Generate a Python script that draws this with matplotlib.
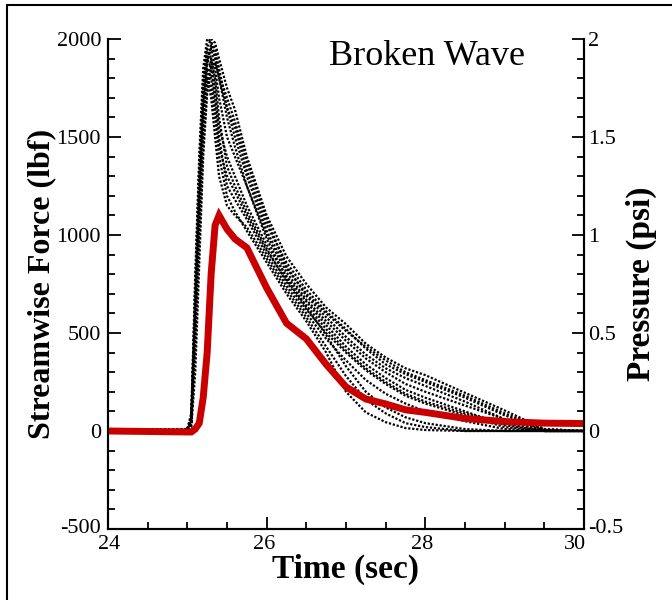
import matplotlib
matplotlib.use("Agg")
import matplotlib.pyplot as plt
from matplotlib.patches import Rectangle
from matplotlib.ticker import MultipleLocator
from matplotlib.transforms import ScaledTranslation

plt.rcParams['font.family'] = ['Liberation Serif', 'DejaVu Serif']

# time grid shared by all runs (sec)
t = [24.0, 25.0, 25.05, 25.1, 25.15, 25.2, 25.25, 25.3, 25.35, 25.4, 25.5, 25.6, 25.75,
     26.0, 26.25, 26.5, 26.75, 27.0, 27.25, 27.5, 27.75, 28.0, 28.5, 29.0, 29.5, 30.0]

# streamwise force of the individual runs (lbf)
run01 = [0, 5, 60, 700, 1300, 1750, 1960, 2000, 1980, 1900, 1750, 1640, 1400, 1100, 890, 750, 630, 545, 445, 375, 320, 285, 195, 105, 10, 0]
run02 = [5, 10, 80, 800, 1400, 1850, 2000, 1990, 1900, 1800, 1650, 1550, 1330, 1050, 860, 720, 610, 520, 420, 340, 290, 250, 170, 80, 5, 0]
run03 = [0, 5, 40, 500, 1100, 1600, 1880, 1960, 1920, 1820, 1700, 1580, 1370, 1080, 840, 690, 580, 480, 390, 320, 270, 230, 150, 60, 5, 0]
run04 = [0, 10, 70, 650, 1250, 1700, 1900, 1850, 1700, 1550, 1400, 1300, 1150, 950, 790, 660, 540, 430, 340, 270, 210, 170, 100, 30, 0, 0]
run05 = [5, 5, 30, 400, 950, 1450, 1750, 1900, 1800, 1600, 1350, 1250, 1120, 930, 760, 620, 500, 400, 310, 240, 180, 140, 80, 20, 0, 0]
run06 = [0, 10, 90, 750, 1350, 1800, 1950, 1900, 1750, 1500, 1250, 1180, 1080, 900, 740, 600, 470, 360, 260, 190, 140, 100, 50, 10, 0, 0]
run07 = [0, 0, 50, 600, 1150, 1650, 1850, 1800, 1650, 1450, 1300, 1220, 1100, 920, 770, 640, 520, 410, 320, 250, 190, 150, 90, 40, 0, 0]
run08 = [5, 5, 40, 550, 1100, 1600, 1800, 1750, 1600, 1400, 1200, 1120, 1020, 860, 700, 560, 400, 200, 95, 45, 15, 5, 0, 0, 0, 0]
run09 = [0, 10, 60, 650, 1200, 1700, 1900, 1950, 1850, 1700, 1500, 1400, 1250, 1000, 810, 670, 560, 460, 370, 300, 240, 200, 130, 60, 0, 0]
run10 = [0, 5, 20, 300, 850, 1400, 1720, 1850, 1880, 1800, 1600, 1450, 1250, 980, 780, 630, 490, 330, 200, 120, 70, 40, 10, 0, 0, 0]
run11 = [5, 5, 50, 600, 1150, 1600, 1880, 1980, 1950, 1850, 1650, 1500, 1300, 1020, 830, 700, 600, 510, 430, 360, 300, 260, 180, 90, 10, 0]
run12 = [0, 5, 40, 500, 1050, 1550, 1800, 1700, 1500, 1300, 1150, 1100, 1040, 880, 720, 580, 430, 280, 160, 90, 40, 20, 0, 0, 0, 0]
runs = [run01, run02, run03, run04, run05, run06, run07, run08, run09, run10, run11, run12]

# measured pressure (psi)
pressure = [0.0, -0.005, -0.005, 0.01, 0.04, 0.17, 0.40, 0.80, 1.05, 1.10, 1.03, 0.98, 0.935,
            0.73, 0.55, 0.47, 0.34, 0.225, 0.163, 0.138, 0.108, 0.095, 0.064, 0.048, 0.040, 0.038]

force_ticks = [-500, 0, 500, 1000, 1500, 2000]
psi_ticks = [-0.5, 0, 0.5, 1, 1.5, 2]
psi_labels = ["-0.5", "0", "0.5", "1", "1.5", "2"]
time_ticks = [24, 26, 28, 30]

fig = plt.figure(figsize=(6.72, 6.0), dpi=100)
fig.patches.append(Rectangle((7 / 672, -0.01), 1.0, 1 - 5 / 600 + 0.01, transform=fig.transFigure,
                             fill=False, edgecolor='black', linewidth=1.5))

ax = fig.add_axes([108 / 672, 71 / 600, 476 / 672, 490 / 600])
ax2 = ax.twinx()

for r in runs:
    ax.plot(t, r, color='black', linestyle=(0, (1, 0.8)), linewidth=1.6)
ax2.plot(t, pressure, color='#c80000', linewidth=5, solid_joinstyle='miter')

ax.set_xlim(24, 30)
ax.set_ylim(-500, 2000)
ax2.set_ylim(-0.5, 2)

ax.set_xticks(time_ticks)
ax.set_xticklabels([str(v) for v in time_ticks])
ax.set_yticks(force_ticks)
ax.set_yticklabels([str(v) for v in force_ticks])
ax2.set_yticks(psi_ticks)
ax2.set_yticklabels(psi_labels)
ax.xaxis.set_minor_locator(MultipleLocator(0.5))
ax.yaxis.set_minor_locator(MultipleLocator(100))
ax2.yaxis.set_minor_locator(MultipleLocator(0.1))

for a in (ax, ax2):
    a.spines['top'].set_visible(False)
    for s in a.spines.values():
        s.set_linewidth(1.5)
    a.tick_params(which='major', direction='in', length=9, width=1.3, labelsize=16, pad=5)
    a.tick_params(which='minor', direction='in', length=5, width=1.3)
ax.tick_params(axis='y', right=False)
ax.tick_params(axis='x', top=False, pad=4)
ax2.tick_params(axis='y', pad=3)

def nudge(lab, dx, dy):
    lab.set_transform(lab.get_transform() + ScaledTranslation(dx / 100, dy / 100, fig.dpi_scale_trans))

# x tick labels sit a little left of their ticks, the last one tucked under the axis end
xlabels = ax.get_xticklabels()
for i, lab in enumerate(xlabels):
    if i == 0:
        nudge(lab, 1, 0)
    elif i == len(xlabels) - 1:
        nudge(lab, -9, 0)
    else:
        nudge(lab, -3, 0)
# lowest y labels lifted slightly so they clear the time labels
nudge(ax.get_yticklabels()[0], 0, 3)
nudge(ax2.get_yticklabels()[0], 0, 3)

ax.set_xlabel("Time (sec)", fontsize=24, fontweight='bold', labelpad=0)
ax.set_ylabel("Streamwise Force (lbf)", fontsize=23, fontweight='bold', labelpad=0)
ax2.set_ylabel("Pressure (psi)", fontsize=24, fontweight='bold', labelpad=2)
ax.text(0.67, 0.947, "Broken Wave", transform=ax.transAxes, fontsize=26, ha='center', va='baseline')

fig.savefig("out.png", dpi=100, facecolor='white')
